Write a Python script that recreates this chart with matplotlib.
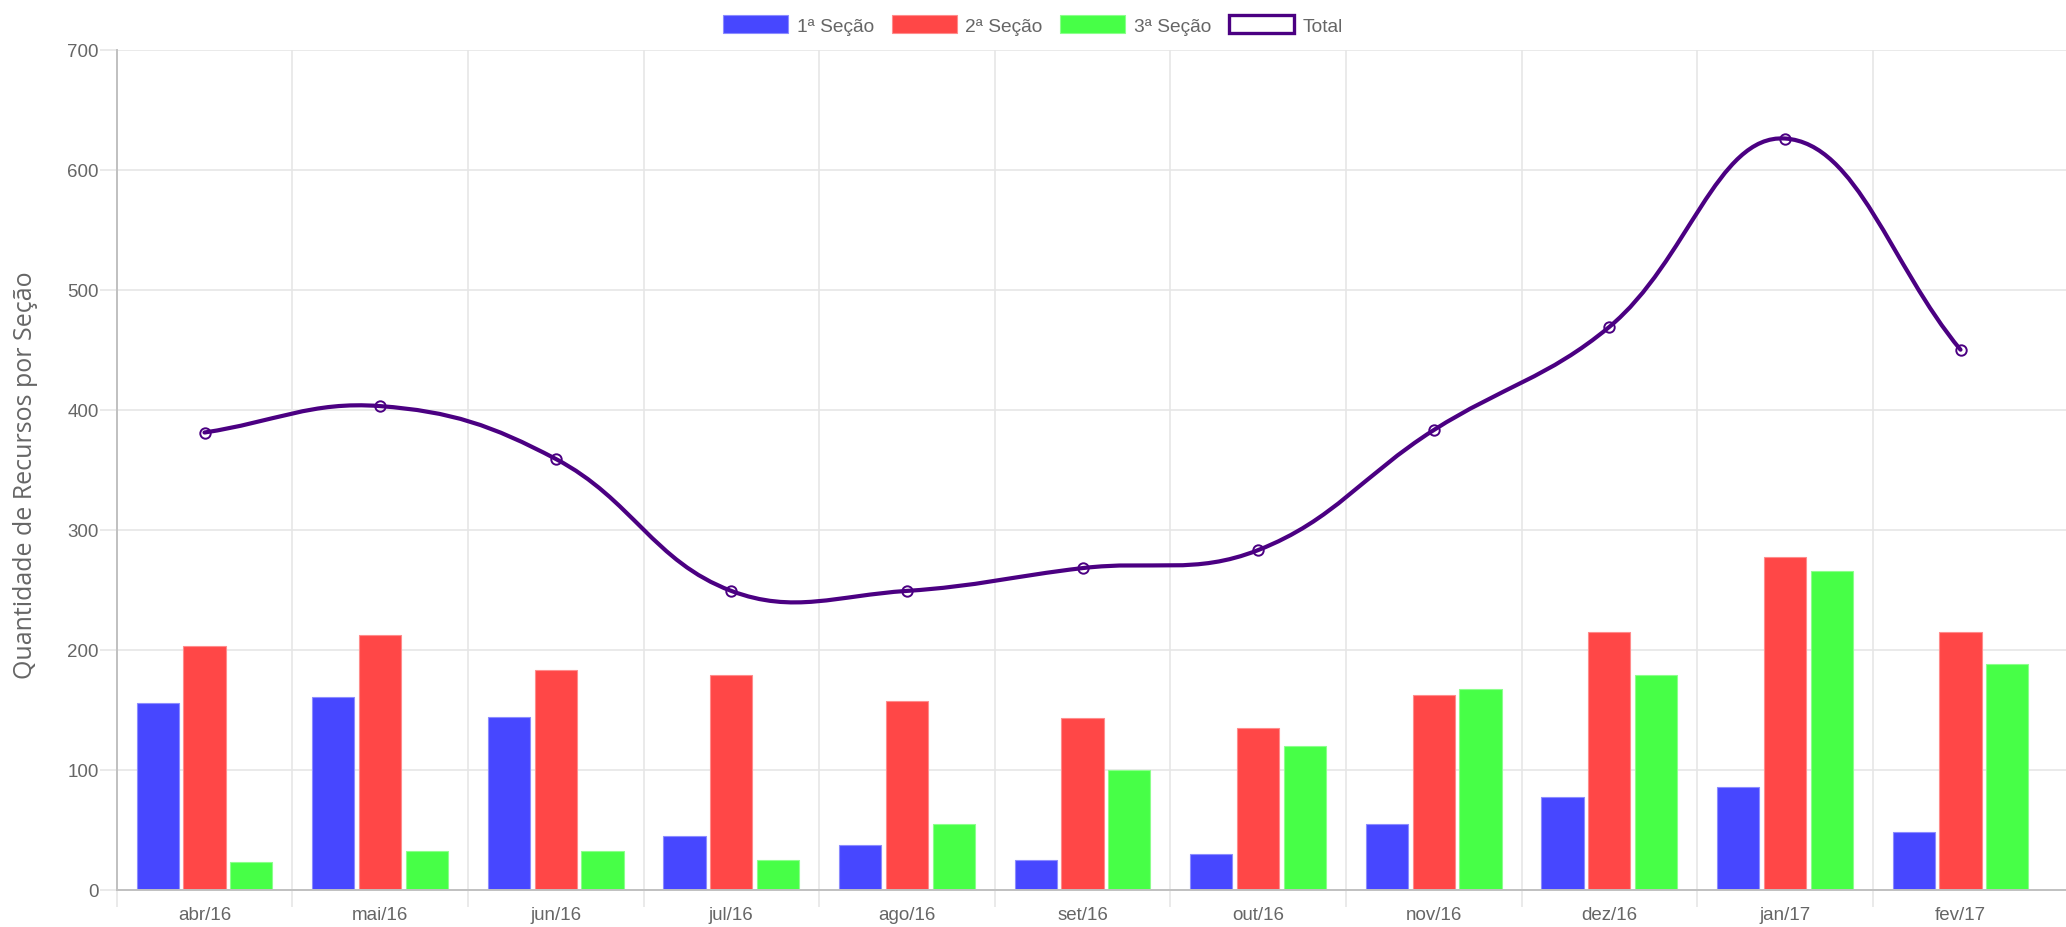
import numpy as np
import matplotlib
matplotlib.use('Agg')
import matplotlib.pyplot as plt
from matplotlib.patches import Patch
from matplotlib.path import Path
from matplotlib.patches import PathPatch

meses = ['abr/16', 'mai/16', 'jun/16', 'jul/16', 'ago/16', 'set/16',
         'out/16', 'nov/16', 'dez/16', 'jan/17', 'fev/17']
secao1 = [156, 161, 144, 45, 37, 25, 30, 55, 77, 86, 48]
secao2 = [203, 212, 183, 179, 157, 143, 135, 162, 215, 277, 215]
secao3 = [23, 32, 32, 25, 55, 100, 120, 167, 179, 266, 188]
total = [381, 403, 359, 249, 249, 268, 283, 383, 469, 626, 450]

cor1 = '#4747ff'
cor2 = '#ff4747'
cor3 = '#47ff47'
cor_total = '#4b0082'
cinza = '#666666'
grade = '#e6e6e6'

plt.rcParams['font.family'] = ['Liberation Sans', 'DejaVu Sans']

W, H = 2066, 928
fig = plt.figure(figsize=(W / 100, H / 100), dpi=100)
ax = fig.add_axes([116.7 / W, 1 - 890.7 / H, 1 - 116.7 / W, (890.7 - 50.7) / H])

n = len(meses)
x = np.arange(n)
xmax = -0.5 + (W - 116.7) / 175.6
ax.set_xlim(-0.5, xmax)
ax.set_ylim(0, 700)

# barras
larg = 0.24
passo = 0.8 / 3
ax.bar(x - passo, secao1, larg, color=cor1, edgecolor='#8c8cff', linewidth=0.8, zorder=2)
ax.bar(x, secao2, larg, color=cor2, edgecolor='#ff8c8c', linewidth=0.8, zorder=2)
ax.bar(x + passo, secao3, larg, color=cor3, edgecolor='#8cff8c', linewidth=0.8, zorder=2)

# linha total com curva tipo chart.js (tension 0.4)
pts = ax.transData.transform(np.column_stack([x, total]))
t = 0.4
verts = [pts[0]]
codes = [Path.MOVETO]
cps = []
for i in range(n):
    cur = pts[i]
    prev = pts[i - 1] if i > 0 else cur
    nxt = pts[i + 1] if i < n - 1 else cur
    d01 = np.hypot(*(cur - prev))
    d12 = np.hypot(*(nxt - cur))
    s = d01 + d12
    fa = t * d01 / s if s else 0
    fb = t * d12 / s if s else 0
    cps.append((cur - fa * (nxt - prev), cur + fb * (nxt - prev)))
for i in range(n - 1):
    verts += [cps[i][1], cps[i + 1][0], pts[i + 1]]
    codes += [Path.CURVE4] * 3
verts = ax.transData.inverted().transform(np.array(verts))
ax.add_patch(PathPatch(Path(verts, codes), facecolor='none', edgecolor=cor_total,
                       linewidth=3.0, zorder=3, capstyle='round'))
ax.plot(x, total, linestyle='none', marker='o', markersize=7.5, markerfacecolor='none',
        markeredgecolor=cor_total, markeredgewidth=1.4, zorder=4)

# eixos e grade
ax.set_yticks(range(0, 701, 100))
ax.set_xticks(x)
ax.set_xticklabels(meses)
ax.set_xticks(np.arange(-0.5, n - 0.5, 1), minor=True)
ax.grid(True, axis='y', color=grade, linewidth=1.2, zorder=0)
ax.grid(True, axis='x', which='minor', color=grade, linewidth=1.2, zorder=0)
ax.tick_params(axis='y', length=12, width=1.2, color=grade, pad=1, labelsize=13.5, labelcolor=cinza)
ax.tick_params(axis='x', which='major', length=0, pad=12, labelsize=13.5, labelcolor=cinza)
ax.tick_params(axis='x', which='minor', length=12, width=1.2, color=grade)
for s in ['top', 'right']:
    ax.spines[s].set_visible(False)
for s in ['left', 'bottom']:
    ax.spines[s].set_color('#c0c0c0')
    ax.spines[s].set_linewidth(1.4)

fig.text(26 / W, 1 - 475 / H, 'Quantidade de Recursos por Seção', rotation=90,
         ha='center', va='center', fontsize=18, color=cinza, family=['Open Sans', 'DejaVu Sans'])

handles = [Patch(facecolor=cor1, edgecolor='#8c8cff', linewidth=0.8),
           Patch(facecolor=cor2, edgecolor='#ff8c8c', linewidth=0.8),
           Patch(facecolor=cor3, edgecolor='#8cff8c', linewidth=0.8),
           Patch(facecolor='white', edgecolor=cor_total, linewidth=2.4)]
fig.legend(handles, ['1ª Seção', '2ª Seção', '3ª Seção', 'Total'], loc='center',
           bbox_to_anchor=(0.5, 1 - 26 / H), ncol=4, frameon=False, fontsize=13.8,
           handlelength=3.4, handleheight=1.0, handletextpad=0.45, columnspacing=0.92,
           labelcolor=cinza)

fig.savefig('out.png', dpi=100)
